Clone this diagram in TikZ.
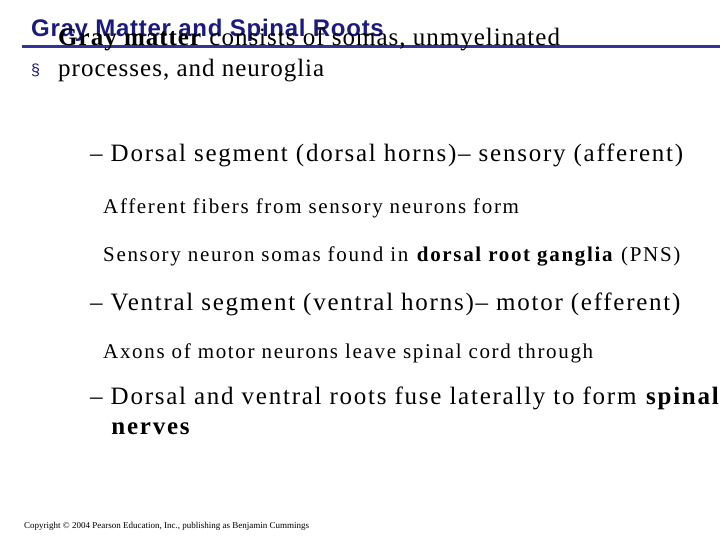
\documentclass[tikz,border=0pt]{standalone}
\usepackage{fontspec}
\setmainfont{Liberation Serif}
\newfontfamily\arial{Liberation Sans}
\definecolor{ttl}{HTML}{1A1A80}
\definecolor{rule}{HTML}{33339A}
\begin{document}
\begin{tikzpicture}[x=1pt,y=-1pt,
  t/.style={anchor=base west,inner sep=0pt},
  l1/.style={t,font=\addfontfeature{LetterSpace=4}\fontsize{25}{31}\selectfont,align=left},
  l2/.style={t,font=\addfontfeature{LetterSpace=7}\fontsize{25}{30}\selectfont,align=left},
  l3/.style={t,font=\addfontfeature{LetterSpace=8}\fontsize{21}{24}\selectfont}]
\useasboundingbox (0,0) rectangle (720,540);
\node[t,font=\arial\bfseries\addfontfeature{LetterSpace=3}\fontsize{24}{26}\selectfont,text=ttl] (title) at (31,37) {Gray Matter and Spinal Roots};
\coordinate (r1) at (22,46.5); \coordinate (r2) at (720,46.5);
\draw[rule,line width=3pt] (r1) -- (r2);
\node[t,font=\arial\fontsize{16}{18}\selectfont,text=ttl] (b1) at (31,76) {\S};
\node[l1] (p1) at (58,77) {\textbf{Gray matter} consists of somas, unmyelinated\\processes, and neuroglia};
\node[l2] (d1) at (90,162) {\textendash{} Dorsal segment (dorsal horns)\textendash{} sensory (afferent)};
\node[l3] (a1) at (103,214) {Afferent fibers from sensory neurons form};
\node[l3] (a2) at (103,261) {Sensory neuron somas found in \textbf{dorsal root ganglia} (PNS)};
\node[l2] (d2) at (90,310) {\textendash{} Ventral segment (ventral horns)\textendash{} motor (efferent)};
\node[l3] (a3) at (103,358) {Axons of motor neurons leave spinal cord through};
\node[l2] (d3) at (90,434) {\textendash{} Dorsal and ventral roots fuse laterally to form \textbf{spinal}\\\hspace*{0.85em}\textbf{nerves}};
\node[t,font=\fontsize{9}{10}\selectfont] (c) at (24,528) {Copyright \textcopyright{} 2004 Pearson Education, Inc., publishing as Benjamin Cummings};
\end{tikzpicture}
\end{document}
